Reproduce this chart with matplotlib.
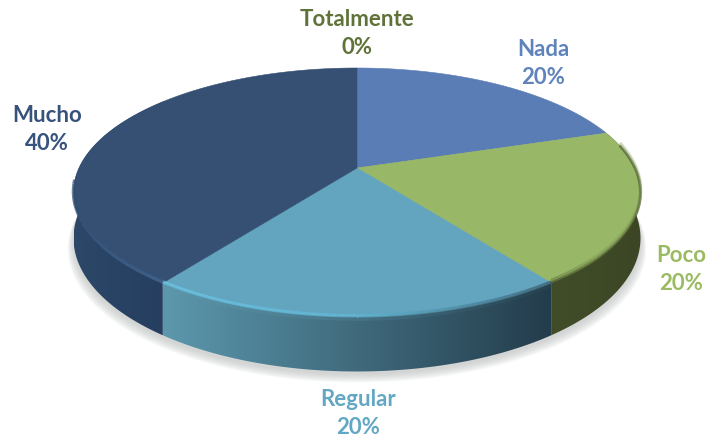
import numpy as np
import matplotlib
matplotlib.use("Agg")
import matplotlib.pyplot as plt
from matplotlib.collections import LineCollection
from matplotlib.colors import LinearSegmentedColormap, to_rgb
from matplotlib.patches import Polygon

# Datos del grafico
labels = ["Nada", "Poco", "Regular", "Mucho", "Totalmente"]
values = [20, 20, 20, 40, 0]

# Colores de cada porcion: cara superior, lateral izq., lateral der., texto
top_colors = ["#5b7db5", "#98b767", "#63a4bf", "#365073", "#5f7338"]
side_left = ["#47608c", "#414d28", "#5c98ad", "#2c4768", "#5f7338"]
side_right = ["#47608c", "#3c4625", "#233c4b", "#263f60", "#5f7338"]
text_colors = ["#5f83bb", "#9bbb63", "#62a7c3", "#37527b", "#5f7338"]
label_pos = [(543, 50), (681, 256), (358, 400), (47, 116), (357, 20)]

# Geometria de la perspectiva, en pixeles
cx, cy = 357, 168
rx, ry, k = 278, 119.6, 0.196
depth = 44


def project(t):
    x, y = np.cos(t), np.sin(t)
    w = 1 + k * y
    return cx + rx * x / w, cy - ry * y / w


def drop(t):
    return depth / (1 + k * np.sin(t))


fig = plt.figure(figsize=(7.08, 4.37), dpi=100)
ax = fig.add_axes([0, 0, 1, 1])
ax.set_xlim(0, 708)
ax.set_ylim(437, 0)
ax.axis("off")

# Angulos de cada porcion (sentido horario desde arriba)
fracs = np.array(values) / sum(values)
edges = np.pi / 2 - 2 * np.pi * np.concatenate([[0], np.cumsum(fracs)])

# Sombra difusa bajo el disco
circle = np.linspace(0, 2 * np.pi, 400)
sx, sy = project(circle)
for grow in np.linspace(10, 0, 10):
    sh = Polygon(np.column_stack([cx + (sx - cx) * (1 + grow / 500),
                                  sy + drop(circle) + 3 + grow * 0.8]),
                 closed=True, fc="#bcc0c0", ec="none", alpha=0.09, zorder=1)
    ax.add_patch(sh)

# Laterales con degradado
for i in range(len(values)):
    t = np.linspace(edges[i], edges[i + 1], 200)
    front = t[np.sin(t) < 0.1]
    if values[i] == 0 or len(front) == 0:
        continue
    x, y = project(t)
    pts = np.concatenate([np.column_stack([x, y]),
                          np.column_stack([x, y + drop(t)])[::-1]])
    patch = Polygon(pts, closed=True, fc="none", ec="none", zorder=2)
    ax.add_patch(patch)
    cmap = LinearSegmentedColormap.from_list("s", [side_left[i], side_right[i]])
    x0, x1 = project(front)[0].min(), project(front)[0].max()
    im = ax.imshow(np.linspace(0, 1, 256)[None, :], cmap=cmap, aspect="auto",
                   extent=[x0, x1, 437, 0], zorder=2)
    im.set_clip_path(patch)
ax.set_xlim(0, 708)
ax.set_ylim(437, 0)

# Caras superiores
for i in range(len(values)):
    if values[i] == 0:
        continue
    t = np.linspace(edges[i], edges[i + 1], 200)
    x, y = project(t)
    pts = np.vstack([[cx, cy], np.column_stack([x, y])])
    ax.add_patch(Polygon(pts, closed=True, fc=top_colors[i],
                         ec=top_colors[i], lw=0.4, zorder=3))


def mix(a, b, f):
    return tuple(np.array(to_rgb(a)) * (1 - f) + np.array(to_rgb(b)) * f)


# Bisel del borde: claro en Regular y Mucho, oscuro hacia la derecha
def bevel(i, start, mid, end, offset, lw, alpha, limit=0.05):
    t = np.linspace(edges[i], edges[i + 1], 160)
    t = t[np.sin(t) < limit]
    x, y = project(t)
    y = y + offset
    p = np.column_stack([x, y])
    segs = np.stack([p[:-1], p[1:]], axis=1)
    f = (x[:-1] - x.min()) / (x.max() - x.min())
    cols = [mix(start, mid, v * 2) if v < 0.5 else mix(mid, end, v * 2 - 1) for v in f]
    ax.add_collection(LineCollection(segs, colors=cols, linewidths=lw,
                                     alpha=alpha, zorder=4, capstyle="butt"))


bevel(2, "#6cc8e8", "#62b8d6", "#3a6072", -1.0, 2.5, 0.8)
bevel(2, "#5c98ad", "#4f8295", "#2b4757", 2.0, 3.0, 0.45)
bevel(3, "#304d72", "#3a5c86", "#3f6490", -1.0, 2.5, 0.75, limit=-0.1)
bevel(1, "#3c4625", "#5c6c38", "#3f4a26", 0.0, 2.0, 0.7, limit=0.2)
bevel(1, "#4a5a2e", "#7c9450", "#7f9a55", -2.5, 2.5, 0.4, limit=0.2)

# Etiquetas con categoria y porcentaje
for i in range(len(labels)):
    lx, ly = label_pos[i]
    ax.text(lx, ly, labels[i], color=text_colors[i], fontsize=16,
            fontfamily="Lato", fontweight="bold", ha="center", va="center", zorder=5)
    ax.text(lx, ly + 27, f"{values[i]}%", color=text_colors[i], fontsize=16,
            fontfamily="Lato", fontweight="bold", ha="center", va="center", zorder=5)

fig.savefig("out.png", dpi=100)
